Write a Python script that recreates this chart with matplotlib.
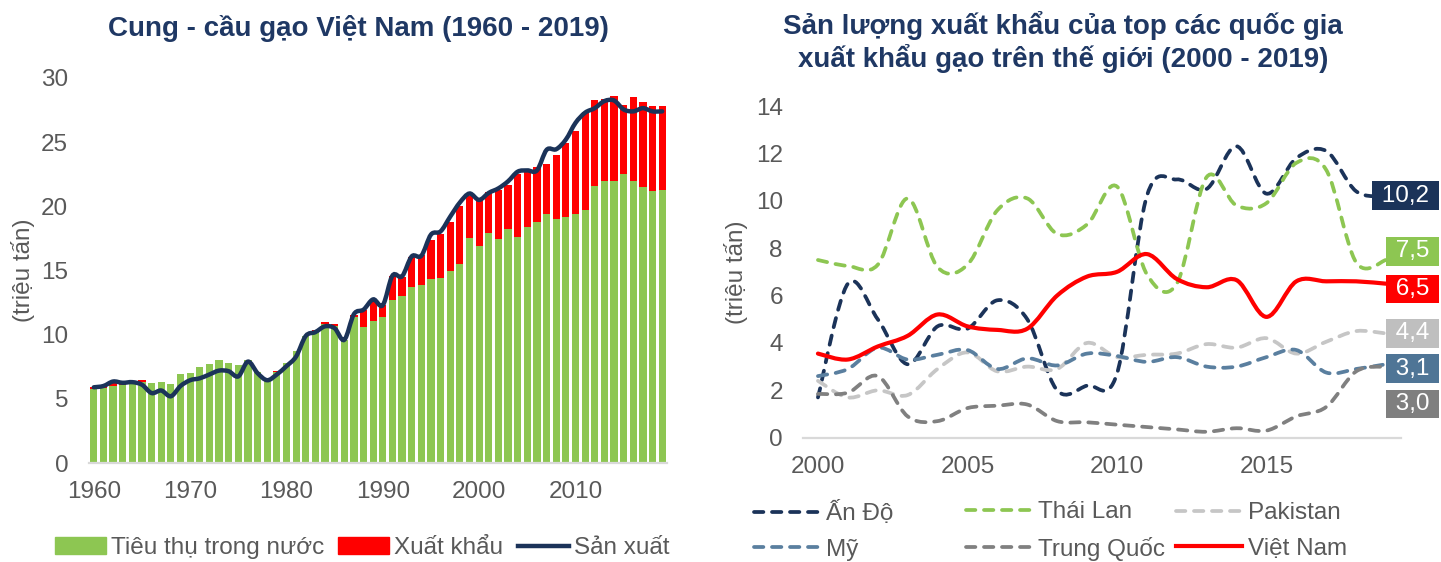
import numpy as np
import matplotlib
matplotlib.use("Agg")
import matplotlib.pyplot as plt
from matplotlib.path import Path
from matplotlib.patches import PathPatch, Patch
from matplotlib.lines import Line2D
from matplotlib.transforms import blended_transform_factory

plt.rcParams['font.family'] = ['Liberation Sans', 'DejaVu Sans']

# ---- left chart: Vietnam rice supply / demand (million tonnes)
years_vn = list(range(1960, 2020))
consumption = [
    5.8, 5.85, 6.0, 6.1, 6.2, 6.35, 6.2, 6.3, 6.15, 6.95,
    7.0, 7.5, 7.7, 8.05, 7.8, 7.65, 8.05, 7.1, 6.5, 7.1,
    7.8, 8.7, 9.9, 10.3, 10.8, 10.7, 9.6, 11.4, 10.6, 11.1,
    11.35, 12.7, 13.0, 13.75, 13.9, 14.35, 14.45, 15.0, 15.5, 17.5,
    16.9, 17.9, 17.45, 18.2, 17.6, 18.4, 18.8, 19.4, 19.0, 19.2,
    19.4, 19.7, 21.6, 22.0, 22.0, 22.55, 22.0, 21.5, 21.2, 21.3]
exports = [
    0.1, 0.1, 0.3, 0.2, 0.1, 0.1, 0.05, 0.05, 0.0, 0.0,
    0.0, 0.0, 0.0, 0.0, 0.0, 0.0, 0.0, 0.0, 0.0, 0.1,
    0.0, 0.0, 0.0, 0.05, 0.2, 0.15, 0.0, 0.1, 1.3, 1.6,
    1.0, 1.9, 1.5, 2.3, 2.3, 3.0, 3.4, 3.8, 4.5, 3.3,
    3.6, 3.2, 3.8, 3.5, 4.95, 4.4, 4.3, 3.9, 5.0, 5.7,
    6.5, 7.65, 6.7, 6.35, 6.6, 5.35, 6.5, 6.6, 6.6, 6.55]
production = [
    5.9, 6.0, 6.35, 6.25, 6.3, 6.1, 5.45, 5.65, 5.2, 6.0,
    6.45, 6.6, 6.9, 7.2, 7.15, 6.75, 7.9, 7.0, 6.45, 6.9,
    7.55, 8.3, 9.9, 10.2, 10.65, 10.5, 9.6, 11.6, 11.95, 12.75,
    12.3, 14.6, 14.55, 16.1, 16.15, 17.8, 18.05, 19.2, 20.3, 21.0,
    20.5, 21.05, 21.4, 21.95, 22.7, 22.8, 22.8, 24.4, 24.45, 25.2,
    26.5, 27.3, 27.65, 28.2, 28.25, 27.55, 27.4, 27.65, 27.4, 27.4]

# ---- right chart: exports of top rice exporters (million tonnes)
years_ex = list(range(2000, 2020))
india = [1.7, 6.5, 5.0, 3.1, 4.7, 4.6, 5.8, 5.0, 2.0, 2.2,
         2.7, 10.2, 10.9, 10.5, 12.3, 10.3, 11.8, 12.1, 10.4, 10.2]
thailand = [7.5, 7.25, 7.3, 10.1, 7.2, 7.3, 9.6, 10.1, 8.6, 9.0,
            10.6, 6.9, 6.5, 11.0, 9.8, 9.9, 11.6, 11.3, 7.4, 7.5]
pakistan = [2.4, 1.7, 2.0, 1.8, 2.9, 3.6, 2.8, 3.0, 2.9, 4.0,
            3.4, 3.5, 3.55, 3.95, 3.8, 4.2, 3.55, 4.05, 4.5, 4.4]
usa = [2.6, 2.9, 3.8, 3.3, 3.5, 3.7, 2.9, 3.35, 3.05, 3.55,
       3.45, 3.2, 3.4, 3.0, 3.0, 3.4, 3.7, 2.75, 2.9, 3.1]
china = [1.85, 1.9, 2.6, 0.9, 0.7, 1.25, 1.35, 1.4, 0.7, 0.65,
         0.55, 0.45, 0.35, 0.25, 0.4, 0.3, 0.9, 1.3, 2.8, 3.0]
vietnam = [3.55, 3.3, 3.85, 4.3, 5.2, 4.7, 4.55, 4.6, 6.0, 6.8,
           7.0, 7.75, 6.7, 6.35, 6.65, 5.1, 6.6, 6.6, 6.6, 6.5]

country_names = ['Ấn Độ', 'Thái Lan', 'Pakistan', 'Mỹ', 'Trung Quốc', 'Việt Nam']
country_data = [india, thailand, pakistan, usa, china, vietnam]
country_colors = ['#1b3359', '#8dc652', '#c6c6c6', '#5a7f9f', '#808080', '#ff0000']
end_labels = ['10,2', '7,5', '4,4', '3,1', '3,0', '6,5']
# vertical spot of each end label box (nudged so boxes do not overlap)
end_label_y = [10.22, 7.86, 4.40, 2.92, 1.42, 6.28]
end_box_colors = ['#1b3359', '#8dc652', '#bfbfbf', '#4f7596', '#7f7f7f', '#ff0000']

GREEN = '#8dc652'
RED = '#ff0000'
NAVY = '#1b3359'
TITLE = '#1f3864'
GREY = '#595959'
FS = 17.5


def smooth_path(x, y):
    # Excel-like smoothed line (Catmull-Rom as cubic Bezier segments)
    x = np.asarray(x, float)
    y = np.asarray(y, float)
    px = np.concatenate([[x[0]], x, [x[-1]]])
    py = np.concatenate([[y[0]], y, [y[-1]]])
    verts = [(x[0], y[0])]
    codes = [Path.MOVETO]
    for i in range(len(x) - 1):
        c1 = (px[i + 1] + (px[i + 2] - px[i]) / 6, py[i + 1] + (py[i + 2] - py[i]) / 6)
        c2 = (px[i + 2] - (px[i + 3] - px[i + 1]) / 6, py[i + 2] - (py[i + 3] - py[i + 1]) / 6)
        verts += [c1, c2, (px[i + 2], py[i + 2])]
        codes += [Path.CURVE4] * 3
    return Path(verts, codes)


def style_axis(ax):
    for s in ['top', 'right', 'left']:
        ax.spines[s].set_visible(False)
    ax.spines['bottom'].set_color('#d9d9d9')
    ax.spines['bottom'].set_linewidth(1.6)
    ax.tick_params(length=0, labelsize=FS, labelcolor=GREY)


W, H = 1441, 562
fig = plt.figure(figsize=(W / 100, H / 100), dpi=100)

# ---------------- left chart
ax1 = fig.add_axes([89 / W, 1 - 463 / H, (667 - 89) / W, (463 - 78) / H])
ax1.bar(years_vn, consumption, width=0.75, color=GREEN, zorder=2)
ax1.bar(years_vn, exports, width=0.75, bottom=consumption, color=RED, zorder=2)
ax1.add_patch(PathPatch(smooth_path(years_vn, production), fill=False,
                        edgecolor=NAVY, lw=3.2, capstyle='round', zorder=3))
ax1.set_xlim(1959.5, 2019.5)
ax1.set_ylim(0, 30)
ax1.set_xticks(range(1960, 2020, 10))
ax1.set_yticks(range(0, 31, 5))
style_axis(ax1)
ax1.tick_params(axis='x', pad=13)
ax1.tick_params(axis='y', pad=15)
ax1.set_ylabel('(triệu tấn)', fontsize=FS, color=GREY)
ax1.yaxis.set_label_coords(-0.093, 0.5)

fig.text(358 / W, 1 - 28 / H, 'Cung - cầu gạo Việt Nam (1960 - 2019)', ha='center', va='center',
         fontsize=20, fontweight='bold', color=TITLE)

left_handles = [Patch(color=GREEN), Patch(color=RED), Line2D([], [], color=NAVY, lw=3.2)]
fig.legend(left_handles, ['Tiêu thụ trong nước', 'Xuất khẩu', 'Sản xuất'], ncol=3,
           loc='center', bbox_to_anchor=(362 / W, 1 - 548 / H), frameon=False,
           fontsize=FS, labelcolor=GREY, handlelength=2.1, handleheight=0.7,
           handletextpad=0.2, columnspacing=0.6, borderpad=0, borderaxespad=0)

# ---------------- right chart
ax2 = fig.add_axes([803 / W, 1 - 437.7 / H, (1401 - 803) / W, (437.7 - 106) / H])
for name, vals, col in zip(country_names, country_data, country_colors):
    if name == 'Việt Nam':
        ax2.add_patch(PathPatch(smooth_path(years_ex, vals), fill=False, edgecolor=col,
                                lw=3.0, capstyle='round', zorder=4))
    else:
        ax2.add_patch(PathPatch(smooth_path(years_ex, vals), fill=False, edgecolor=col,
                                lw=2.7, linestyle=(0, (2.5, 2.3)), capstyle='round', zorder=3))
ax2.set_xlim(1999.5, 2019.5)
ax2.set_ylim(0, 14)
ax2.set_xticks(range(2000, 2016, 5))
ax2.set_yticks(range(0, 15, 2))
style_axis(ax2)
ax2.tick_params(axis='x', pad=13)
ax2.tick_params(axis='y', pad=14.5)
ax2.set_ylabel('(triệu tấn)', fontsize=FS, color=GREY)
ax2.yaxis.set_label_coords(-0.092, 0.5)

trans = blended_transform_factory(fig.transFigure, ax2.transData)
for lab, yv, bc in zip(end_labels, end_label_y, end_box_colors):
    ax2.text(1436 / W, yv, ' ' + lab + ' ', transform=trans, ha='right', va='center',
             fontsize=FS, color='white', zorder=6, clip_on=False,
             bbox=dict(boxstyle='square,pad=0.13', fc=bc, ec='none'))

fig.text(1063 / W, 1 - 42 / H,
         'Sản lượng xuất khẩu của top các quốc gia\nxuất khẩu gạo trên thế giới (2000 - 2019)',
         ha='center', va='center', fontsize=20, fontweight='bold', color=TITLE,
         linespacing=1.15)

# right legend: three fixed-width columns of two rows
col_x = [754, 966, 1176]
for c in range(3):
    idx = [c, c + 3]
    hs = []
    for i in idx:
        if country_names[i] == 'Việt Nam':
            hs.append(Line2D([], [], color=country_colors[i], lw=3.0))
        else:
            hs.append(Line2D([], [], color=country_colors[i], lw=2.7,
                             linestyle=(0, (2.5, 2.3)), dash_capstyle='round'))
    fig.legend(hs, [country_names[i] for i in idx], loc='center left',
               bbox_to_anchor=(col_x[c] / W, 1 - 531 / H), frameon=False,
               fontsize=FS, labelcolor=GREY, handlelength=2.7,
               handletextpad=0.25, labelspacing=0.55, borderpad=0, borderaxespad=0)

fig.savefig('out.png', dpi=100)
